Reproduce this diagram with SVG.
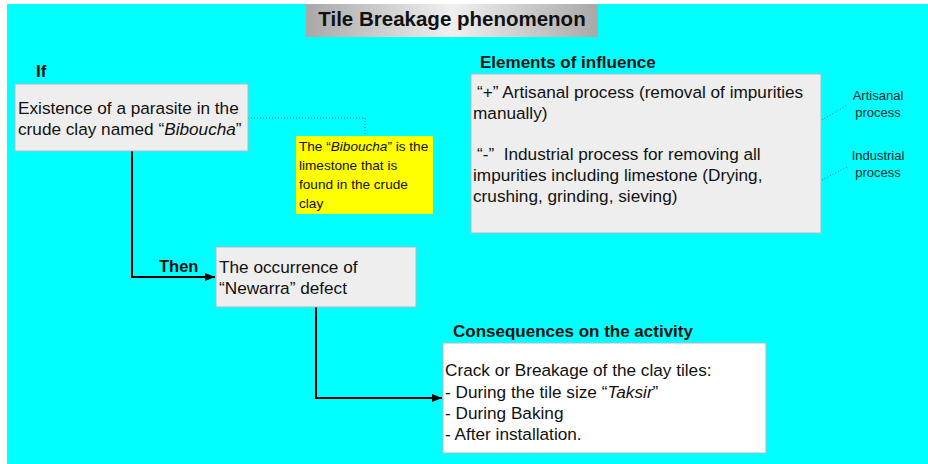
<svg xmlns="http://www.w3.org/2000/svg" width="928" height="464" viewBox="0 0 928 464">
<style>
text{font-family:"Liberation Sans",Arial,sans-serif;fill:#111}
.t{font-size:17.2px}
.h{font-size:17px;font-weight:bold}
.s{font-size:13.6px}
.l{font-size:13px;fill:#1a2a2a}
.box{fill:#eeeeee;stroke:#a9bccc;stroke-width:1}
.dot{fill:none;stroke:#3a6a7a;stroke-width:1;stroke-dasharray:1 2}
.con{fill:none;stroke:#000;stroke-width:2}
</style>
<defs>
<linearGradient id="tg" x1="0" y1="0" x2="1" y2="0">
<stop offset="0" stop-color="#a8a8a8"/>
<stop offset="0.5" stop-color="#f0f0f0"/>
<stop offset="1" stop-color="#a8a8a8"/>
</linearGradient>
<marker id="ah" markerWidth="10" markerHeight="8" refX="10" refY="4" orient="auto" markerUnits="userSpaceOnUse">
<path d="M0,0 L10,4 L0,8 Z" fill="#000"/>
</marker>
</defs>
<rect x="7" y="4" width="921" height="460" fill="#00ffff"/>
<g id="title">
<rect x="306" y="4" width="292" height="33" fill="url(#tg)"/>
<text x="452" y="26" text-anchor="middle" style="font-size:20.5px;font-weight:bold">Tile Breakage phenomenon</text>
</g>
<g id="connectors">
<polyline class="con" points="132,151 132,277 215,277" marker-end="url(#ah)"/>
<polyline class="con" points="316,307 316,398 442,398" marker-end="url(#ah)"/>
<polyline class="dot" points="248,118 365,118 365,136"/>
<line class="dot" x1="822" y1="120" x2="847" y2="105"/>
<line class="dot" x1="822" y1="180" x2="847" y2="167"/>
</g>
<g id="if-label"><text x="36" y="77" class="h">If</text></g>
<g id="cause">
<rect class="box" x="15" y="84" width="233" height="67"/>
<text class="t" x="18" y="114">Existence of a parasite in the</text>
<text class="t" x="18" y="135">crude clay named “<tspan font-style="italic">Biboucha</tspan>”</text>
</g>
<g id="note">
<rect x="296" y="136" width="137" height="78" fill="#ffff00"/>
<text class="s" x="299" y="151">The “<tspan font-style="italic">Biboucha</tspan>” is the</text>
<text class="s" x="299" y="170">limestone that is</text>
<text class="s" x="299" y="189">found in the crude</text>
<text class="s" x="299" y="208">clay</text>
</g>
<g id="then-label"><text x="159" y="272" class="h" style="font-size:16.5px">Then</text></g>
<g id="effect">
<rect class="box" x="216" y="247" width="200" height="60"/>
<text class="t" x="219" y="273">The occurrence of</text>
<text class="t" x="219" y="294">“Newarra” defect</text>
</g>
<g id="influence">
<text x="480" y="68" class="h">Elements of influence</text>
<rect class="box" x="471" y="74" width="350" height="159"/>
<text class="t" x="477" y="98">“+” Artisanal process (removal of impurities</text>
<text class="t" x="473" y="119">manually)</text>
<text class="t" x="477" y="160">“-”&#160; Industrial process for removing all</text>
<text class="t" x="473" y="181">impurities including limestone (Drying,</text>
<text class="t" x="473" y="202">crushing, grinding, sieving)</text>
</g>
<g id="artisanal">
<text class="l" x="878" y="100" text-anchor="middle">Artisanal</text>
<text class="l" x="878" y="117" text-anchor="middle">process</text>
</g>
<g id="industrial">
<text class="l" x="878" y="160" text-anchor="middle">Industrial</text>
<text class="l" x="878" y="177" text-anchor="middle">process</text>
</g>
<g id="consequences">
<text x="453" y="337" class="h">Consequences on the activity</text>
<rect x="443" y="343" width="323" height="110" fill="#ffffff" stroke="#a9bccc"/>
<text class="t" x="445" y="376">Crack or Breakage of the clay tiles:</text>
<text class="t" x="445" y="398">- During the tile size “<tspan font-style="italic">Taksir</tspan>”</text>
<text class="t" x="445" y="419">- During Baking</text>
<text class="t" x="445" y="440">- After installation.</text>
</g>
</svg>
